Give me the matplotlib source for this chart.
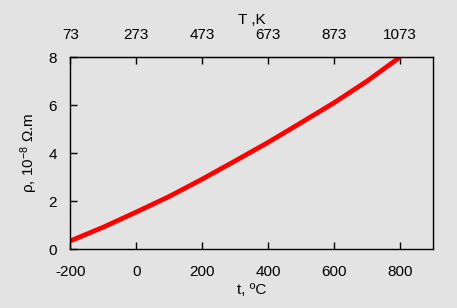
import matplotlib
matplotlib.use("Agg")
import matplotlib.pyplot as plt

plt.rcParams['font.family'] = ['Liberation Sans', 'DejaVu Sans']
plt.rcParams['mathtext.fontset'] = 'custom'
plt.rcParams['mathtext.rm'] = 'Liberation Sans'
plt.rcParams['mathtext.it'] = 'Liberation Sans'
plt.rcParams['axes.unicode_minus'] = False

t_celsius = [-200, -100, 0, 100, 200, 300, 400, 500, 600, 700, 800]
rho = [0.35, 0.92, 1.55, 2.2, 2.92, 3.68, 4.45, 5.27, 6.1, 7.0, 8.0]
bottom_ticks = [-200, 0, 200, 400, 600, 800]
top_labels = ['73', '273', '473', '673', '873', '1073']
y_ticks = [0, 2, 4, 6, 8]

bg = '#e3e3e3'
fig = plt.figure(figsize=(4.57, 3.08), dpi=100, facecolor=bg)
ax = fig.add_axes([0.1538, 0.1906, 0.793, 0.6234], facecolor=bg)

ax.plot(t_celsius, rho, color='#ff0000', lw=3.4, solid_capstyle='butt', clip_on=True)
ax.set_xlim(-200, 900)
ax.set_ylim(0, 8)
ax.set_xticks(bottom_ticks)
ax.set_yticks(y_ticks)
ax.tick_params(direction='in', length=5, width=1, labelsize=11, colors='black')
ax.tick_params(axis='x', pad=11)
ax.tick_params(axis='y', pad=9.5)
for s in ax.spines.values():
    s.set_linewidth(1.0)
    s.set_color('black')

ax.set_xlabel('t, ºC', fontsize=11, labelpad=3)
ax.set_ylabel('ρ, 10$^{-8}$ Ω.m', fontsize=11, labelpad=6)

top = ax.secondary_xaxis('top')
top.set_xticks(bottom_ticks)
top.set_xticklabels(top_labels)
top.tick_params(direction='in', length=5, width=1, labelsize=11, pad=11)
top.set_xlabel('T ,K', fontsize=11, labelpad=3)

fig.savefig('out.png', dpi=100, facecolor=bg)
